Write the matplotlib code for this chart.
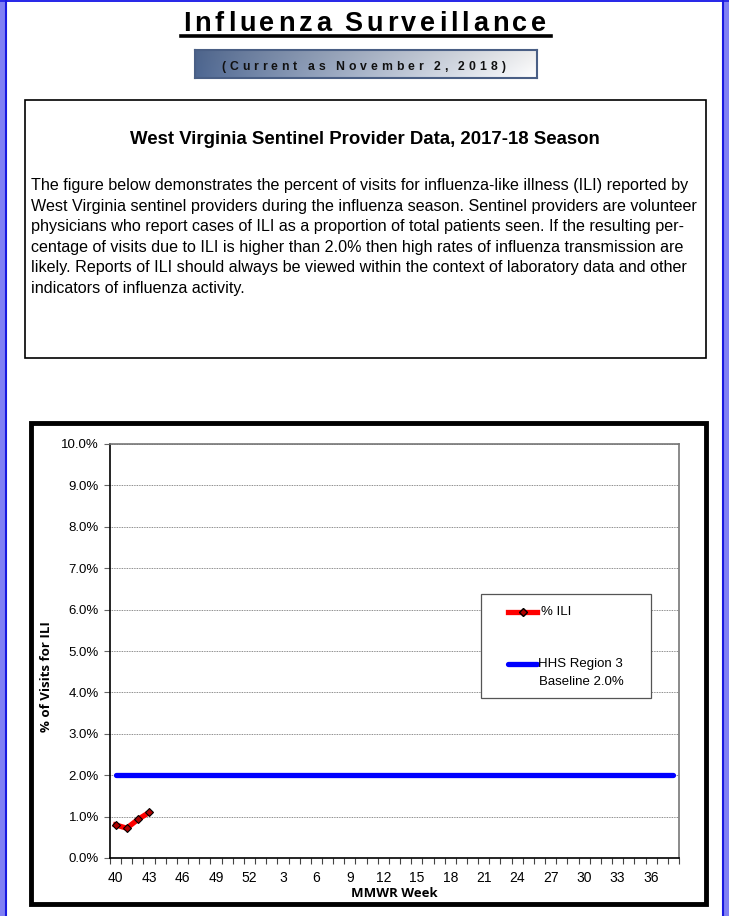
import numpy as np
import matplotlib
matplotlib.use("Agg")
import matplotlib.pyplot as plt
from matplotlib.patches import Rectangle
from matplotlib.lines import Line2D

# MMWR weeks of the 2017-18 season (40..52 then 1..38)
weeks = list(range(40, 53)) + list(range(1, 39))
ili_pct = [0.80, 0.72, 0.93, 1.10]          # % ILI, weeks 40-43
baseline = [2.0] * len(weeks)               # HHS Region 3 baseline
y_ticks = [0, 1, 2, 3, 4, 5, 6, 7, 8, 9, 10]

title = "Influenza Surveillance"
subtitle = "(Current as November 2, 2018)"
heading = "West Virginia Sentinel Provider Data, 2017-18 Season"
para = [
    "The figure below demonstrates the percent of visits for influenza-like illness (ILI) reported by",
    "West Virginia sentinel providers during the influenza season. Sentinel providers are volunteer",
    "physicians who report cases of ILI as a proportion of total patients seen. If the resulting per-",
    "centage of visits due to ILI is higher than 2.0% then high rates of influenza transmission are",
    "likely. Reports of ILI should always be viewed within the context of laboratory data and other",
    "indicators of influenza activity.",
]

W, H = 729, 916
fig = plt.figure(figsize=(W / 100, H / 100), dpi=100)
plt.rcParams['font.family'] = ['Liberation Sans', 'DejaVu Sans']


def fx(x):
    return x / W


def fy(y):
    return 1 - y / H


def box(x0, y0, x1, y1, **kw):
    fig.patches.append(Rectangle((fx(x0), fy(y1)), fx(x1) - fx(x0), fy(y0) - fy(y1),
                                 transform=fig.transFigure, **kw))


def spaced(text, left, right, y, size, **kw):
    # letters spread out evenly between left and right (pixels)
    r = fig.canvas.get_renderer()
    ws = []
    for ch in text:
        if ch == " ":
            ws.append(size * 0.3)
            continue
        t = fig.text(0, 0, ch, fontsize=size, **kw)
        ws.append(t.get_window_extent(r).width)
        t.remove()
    gap = (right - left - sum(ws)) / (len(text) - 1)
    x = left
    for ch, w in zip(text, ws):
        if ch != " ":
            fig.text(fx(x), fy(y), ch, fontsize=size, va="baseline", ha="left", **kw)
        x += w + gap


# page border
box(0, 0, 6, H, facecolor="#8080f4", edgecolor="none")
box(723, 0, W, H, facecolor="#8080f4", edgecolor="none")
box(0, 0, W, 2, facecolor="#2a2ae8", edgecolor="none")
fig.lines.append(Line2D([fx(6), fx(6)], [0, 1], color="#1a1ae0", lw=1.5, transform=fig.transFigure))
fig.lines.append(Line2D([fx(723), fx(723)], [0, 1], color="#1a1ae0", lw=1.5, transform=fig.transFigure))

# title
spaced(title, 183, 546, 31, 19.5, fontweight="bold")
fig.lines.append(Line2D([fx(181), fx(551)], [fy(35.5), fy(35.5)], color="black", lw=2.6,
                        transform=fig.transFigure))

# subtitle with gradient box
sax = fig.add_axes([fx(195), fy(78), fx(537) - fx(195), fy(50) - fy(78)])
grad = np.linspace(0, 1, 256)
vert = np.linspace(0.9, 1.0, 20)[:, None]
c0 = np.array([0.30, 0.40, 0.57])
img = (c0[None, None, :] + (1 - c0[None, None, :]) * grad[None, :, None] ** 0.9) * vert[..., None]
img = np.clip(img + (1 - vert[..., None]) * 0.3, 0, 1)
sax.imshow(img, aspect="auto", extent=[0, 1, 0, 1])
sax.set_xticks([])
sax.set_yticks([])
for s in sax.spines.values():
    s.set_color("#4a5f85")
    s.set_linewidth(1.5)
spaced(subtitle, 221, 505, 70, 8.8, fontweight="bold", color="#111111")

# description box
box(25, 100, 706, 358, facecolor="none", edgecolor="black", lw=1.2)
fig.text(fx(365), fy(139), heading, fontsize=13.4, fontweight="bold", ha="center", va="center")
for i, line in enumerate(para):
    fig.text(fx(31), fy(185.5 + i * 20.6), line, fontsize=11.6, ha="left", va="center")

# chart border
box(31, 423, 706, 904, facecolor="none", edgecolor="black", lw=3.5)

ax = fig.add_axes([fx(110), fy(858), fx(679) - fx(110), fy(444) - fy(858)])
x = np.arange(len(weeks))
ax.plot(x, baseline, color="#0000ff", lw=3.8, solid_capstyle="round", zorder=3)
ax.plot(x[:len(ili_pct)], ili_pct, color="#ff0000", lw=3.8, zorder=4,
        marker="D", markersize=4.2, markerfacecolor="#b00000", markeredgecolor="black",
        markeredgewidth=0.8)

ax.set_xlim(-0.5, len(weeks) - 0.5)
ax.set_ylim(0, 10)
ax.set_yticks(y_ticks)
ax.set_yticklabels([f"{v:.1f}%" for v in y_ticks], fontsize=9.5)
ax.set_xticks(x[::3])
ax.set_xticklabels([str(w) for w in weeks[::3]], fontsize=10)
ax.set_xticks(np.arange(len(weeks) + 1) - 0.5, minor=True)
ax.tick_params(axis="x", which="major", length=0, pad=9)
ax.tick_params(axis="x", which="minor", length=4, width=0.8, color="#444444")
ax.tick_params(axis="y", length=4, width=0.8, color="#666666", pad=4)
ax.yaxis.grid(True, linestyle=(0, (1, 1)), color="#666666", lw=0.6)
ax.set_axisbelow(True)
for s in ["left", "bottom"]:
    ax.spines[s].set_color("black")
    ax.spines[s].set_linewidth(1.2)
for s in ["top", "right"]:
    ax.spines[s].set_color("#777777")
    ax.spines[s].set_linewidth(1.2)
ax.set_xlabel("MMWR Week", fontsize=9.5, fontweight="bold", labelpad=2,
              family=["Open Sans", "DejaVu Sans"])
fig.text(fx(47), fy(677), "% of Visits for ILI", rotation=90, fontsize=9.5, fontweight="bold",
         ha="center", va="center", family=["Open Sans", "DejaVu Sans"])

# legend box
ax.add_patch(Rectangle((0.652, 0.386), 0.299, 0.252, transform=ax.transAxes,
                       facecolor="white", edgecolor="#555555", lw=0.9, zorder=5))
ax.add_line(Line2D([0.7, 0.7255, 0.751], [0.595, 0.595, 0.595], transform=ax.transAxes,
                   color="#ff0000", lw=3.8, zorder=6, marker="D", markevery=[1], markersize=4,
                   markerfacecolor="#b00000", markeredgecolor="black"))
ax.text(0.757, 0.595, "% ILI", transform=ax.transAxes, fontsize=9.5, va="center", zorder=7)
ax.add_line(Line2D([0.7, 0.751], [0.469, 0.469], transform=ax.transAxes, color="#0000ff",
                   lw=3.8, solid_capstyle="round", zorder=6))
ax.text(0.752, 0.469, "HHS Region 3", transform=ax.transAxes, fontsize=9.5, va="center", zorder=7)
ax.text(0.754, 0.425, "Baseline 2.0%", transform=ax.transAxes, fontsize=9.5, va="center", zorder=7)

fig.savefig("out.png", dpi=100)
